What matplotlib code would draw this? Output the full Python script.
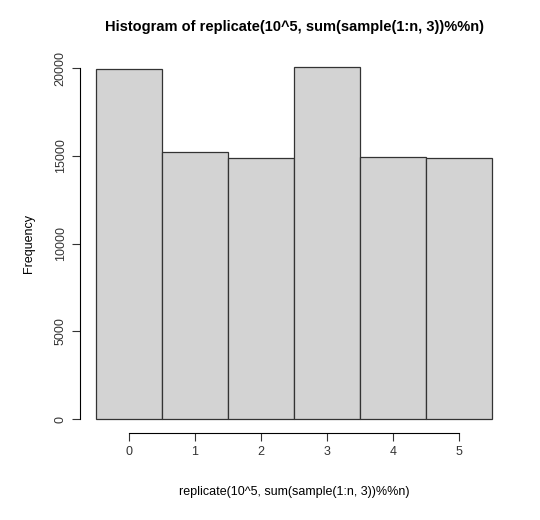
import matplotlib
matplotlib.use("Agg")
import matplotlib.pyplot as plt

plt.rcParams['font.family'] = ['Liberation Sans', 'DejaVu Sans']

# Histogram of sums mod n
values = [0, 1, 2, 3, 4, 5]
counts = [19950, 15210, 14870, 20060, 14930, 14880]
yticks = [0, 5000, 10000, 15000, 20000]

fig = plt.figure(figsize=(5.4, 5.2), dpi=100)
ax = fig.add_axes([0.148, 0.167, 0.793, 0.731])

ax.bar(values, counts, width=1.0, color='#d3d3d3', edgecolor='#333333', linewidth=0.9)

xr = (min(values) - 0.5, max(values) + 0.5)
pad = (xr[1] - xr[0]) * 0.04
ax.set_xlim(xr[0] - pad, xr[1] + pad)
ymax = max(counts)
ax.set_ylim(-ymax * 0.04, ymax * 1.04)

for s in ['top', 'right']:
    ax.spines[s].set_visible(False)
ax.spines['left'].set_bounds(0, 20000)
ax.spines['bottom'].set_bounds(0, 5)
ax.set_xticks(values)
ax.set_yticks(yticks)
ax.set_yticklabels([str(v) for v in yticks], rotation=90, va='center')
ax.tick_params(labelsize=9, length=6, color='#333333', labelcolor='#333333')

ax.set_xlabel('replicate(10^5, sum(sample(1:n, 3))%%n)', fontsize=9, labelpad=20)
ax.set_ylabel('Frequency', fontsize=9, labelpad=14)
ax.set_title('Histogram of replicate(10^5, sum(sample(1:n, 3))%%n)',
             fontsize=10.5, fontweight='bold', pad=16)

fig.savefig('out.png', dpi=100)
